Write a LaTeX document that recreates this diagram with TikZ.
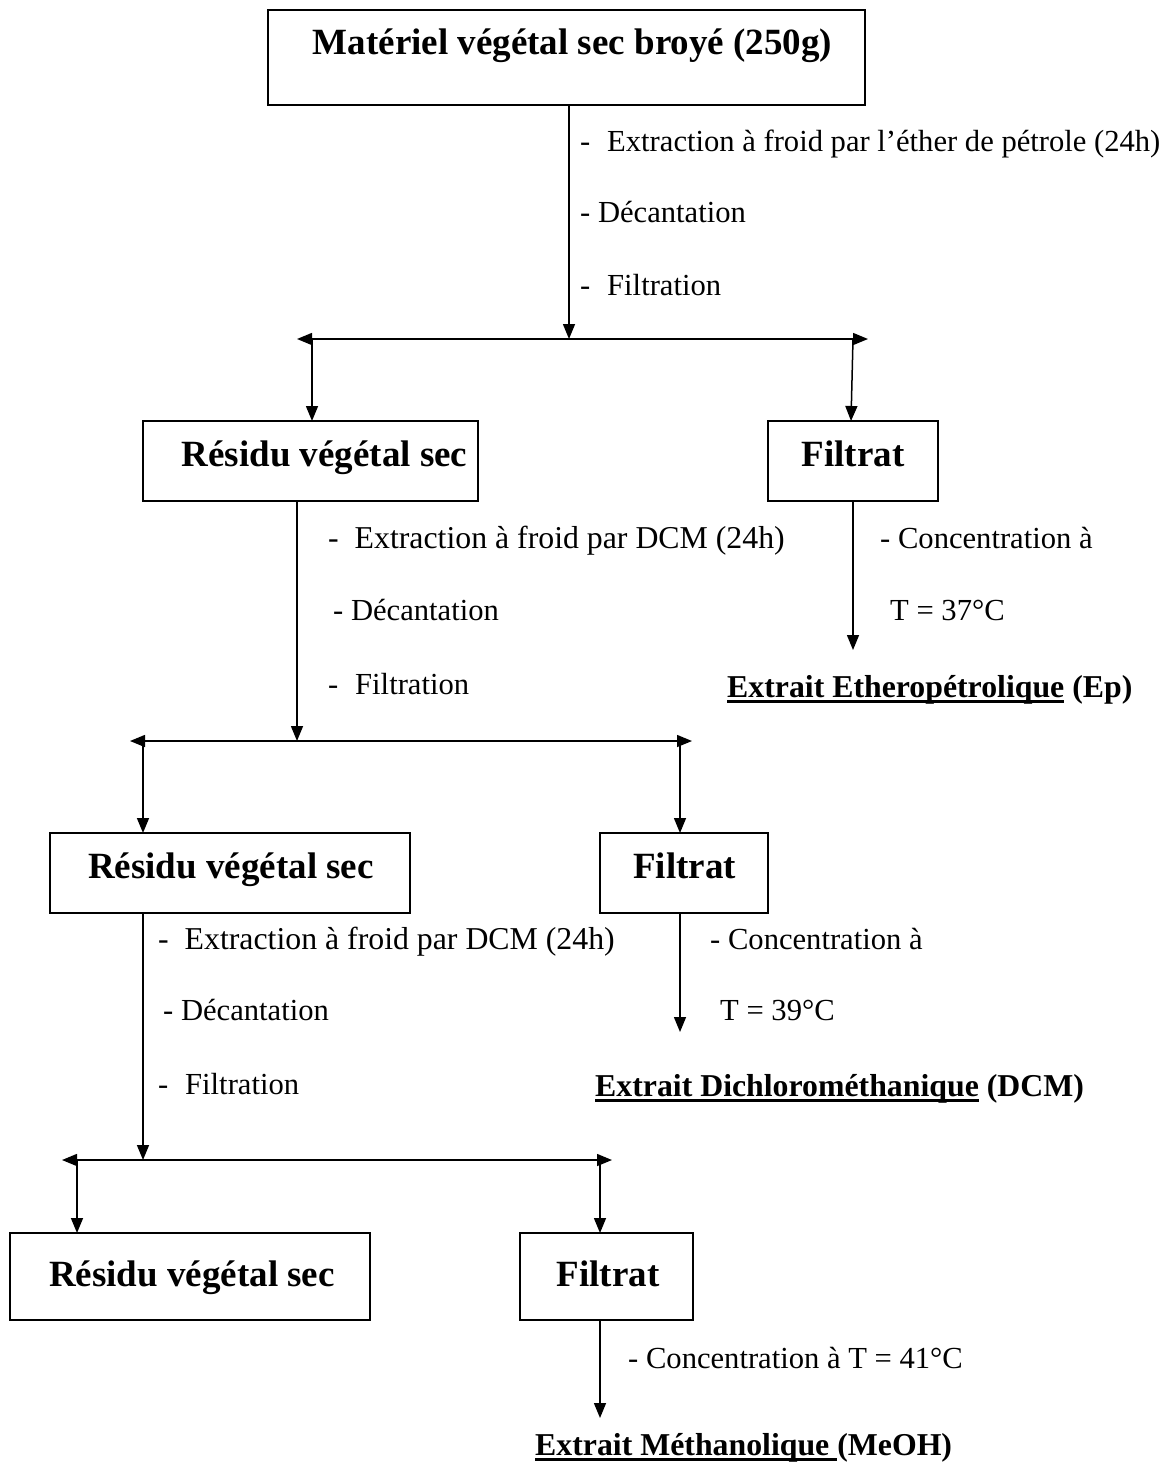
\documentclass[tikz,border=0pt]{standalone}
\usepackage{fontspec}
\setmainfont{Liberation Serif}
\usetikzlibrary{arrows.meta}
\newcommand\thickul[1]{\setbox0=\hbox{#1}\hbox{\copy0\kern-\wd0\rule[-6.2pt]{\wd0}{3.6pt}}}
\begin{document}
\begin{tikzpicture}[x=1pt,y=-1pt,
  box/.style={draw, line width=1.5pt, inner sep=0pt},
  big/.style={font=\fontsize{37}{42}\selectfont\bfseries, inner sep=0pt, anchor=base},
  lab/.style={font=\fontsize{30.6}{36}\selectfont, inner sep=0pt, anchor=base west},
  labw/.style={font=\fontsize{31.8}{36}\selectfont, inner sep=0pt, anchor=base west},
  ext/.style={font=\fontsize{31.8}{36}\selectfont\bfseries, inner sep=0pt, anchor=base west},
  arr/.style={line width=1.5pt, -{Triangle[length=15pt,width=12pt]}},
  darr/.style={line width=1.5pt, {Triangle[length=15pt,width=12pt]}-{Triangle[length=15pt,width=12pt]}}]
\useasboundingbox (0,0) rectangle (1165,1467);
% boxes
\node[box, minimum width=597, minimum height=95] (b1) at (566.5,57.5) {};
\node[big] (t1) at (572.5,54) {Matériel végétal sec broyé (250g)};
\node[box, minimum width=335, minimum height=80] (r1) at (310.5,461) {};
\node[big] (tr1) at (324.5,466) {Résidu végétal sec};
\node[box, minimum width=170, minimum height=80] (f1) at (853,461) {};
\node[big] (tf1) at (853,466) {Filtrat};
\node[box, minimum width=360, minimum height=80] (r2) at (230,873) {};
\node[big] (tr2) at (231,878) {Résidu végétal sec};
\node[box, minimum width=168, minimum height=80] (f2) at (684,873) {};
\node[big] (tf2) at (684.5,878) {Filtrat};
\node[box, minimum width=360, minimum height=87] (r3) at (190,1276.5) {};
\node[big] (tr3) at (192,1286) {Résidu végétal sec};
\node[box, minimum width=173, minimum height=87] (f3) at (606.5,1276.5) {};
\node[big] (tf3) at (608,1286) {Filtrat};
% split coordinates
\coordinate (h1m) at (569,339);
\coordinate (h1l) at (297,339);
\coordinate (h1r) at (868,339);
\coordinate (h2m) at (297,741);
\coordinate (h2l) at (130,741);
\coordinate (h2r) at (692,741);
\coordinate (h3m) at (143,1160);
\coordinate (h3l) at (62,1160);
\coordinate (h3r) at (612,1160);
\coordinate (c1) at (853,650);
\coordinate (c2) at (680,1032);
\coordinate (c3) at (600,1418);
% connectors
\draw[arr] (b1.south -| h1m) -- (h1m);
\draw[darr] (h1l) -- (h1r);
\draw[arr] (312,339) -- (312,421);
\draw[arr] (853,339) -- (851,421);
\draw[arr] (r1.south -| h2m) -- (h2m);
\draw[darr] (h2l) -- (h2r);
\draw[arr] (143,741) -- (143,833);
\draw[arr] (680,741) -- (680,833);
\draw[arr] (f1.south -| c1) -- (c1);
\draw[arr] (r2.south -| h3m) -- (h3m);
\draw[darr] (h3l) -- (h3r);
\draw[arr] (77,1160) -- (77,1233);
\draw[arr] (600,1160) -- (600,1233);
\draw[arr] (f2.south -| c2) -- (c2);
\draw[arr] (f3.south -| c3) -- (c3);
% labels level 1
\node[lab] (l1a) at (580,151) {-\hspace{0.55em}Extraction à froid par l’éther de pétrole (24h)};
\node[lab] (l1b) at (580,222) {- Décantation};
\node[lab] (l1c) at (580,295) {-\hspace{0.55em}Filtration};
% level 2
\node[labw] (l2a) at (328,548) {-\hspace{0.5em}Extraction à froid par DCM (24h)};
\node[lab] (l2b) at (333,620) {- Décantation};
\node[lab] (l2c) at (328,694) {-\hspace{0.55em}Filtration};
\node[lab] (c1a) at (880,548) {- Concentration à};
\node[lab] (c1b) at (890,620) {T = 37°C};
\node[ext] (e1) at (727,697) {\thickul{Extrait Etheropétrolique} (Ep)};
% level 3
\node[labw] (l3a) at (158,949) {-\hspace{0.5em}Extraction à froid par DCM (24h)};
\node[lab] (l3b) at (163,1020) {- Décantation};
\node[lab] (l3c) at (158,1094) {-\hspace{0.55em}Filtration};
\node[lab] (c2a) at (710,949) {- Concentration à};
\node[lab] (c2b) at (720,1020) {T = 39°C};
\node[ext] (e2) at (595,1096) {\thickul{Extrait Dichlorométhanique} (DCM)};
% level 4
\node[lab] (c3a) at (628,1368) {- Concentration à T = 41°C};
\node[ext] (e3) at (535,1455) {\thickul{Extrait Méthanolique\ }(MeOH)};
\end{tikzpicture}
\end{document}
